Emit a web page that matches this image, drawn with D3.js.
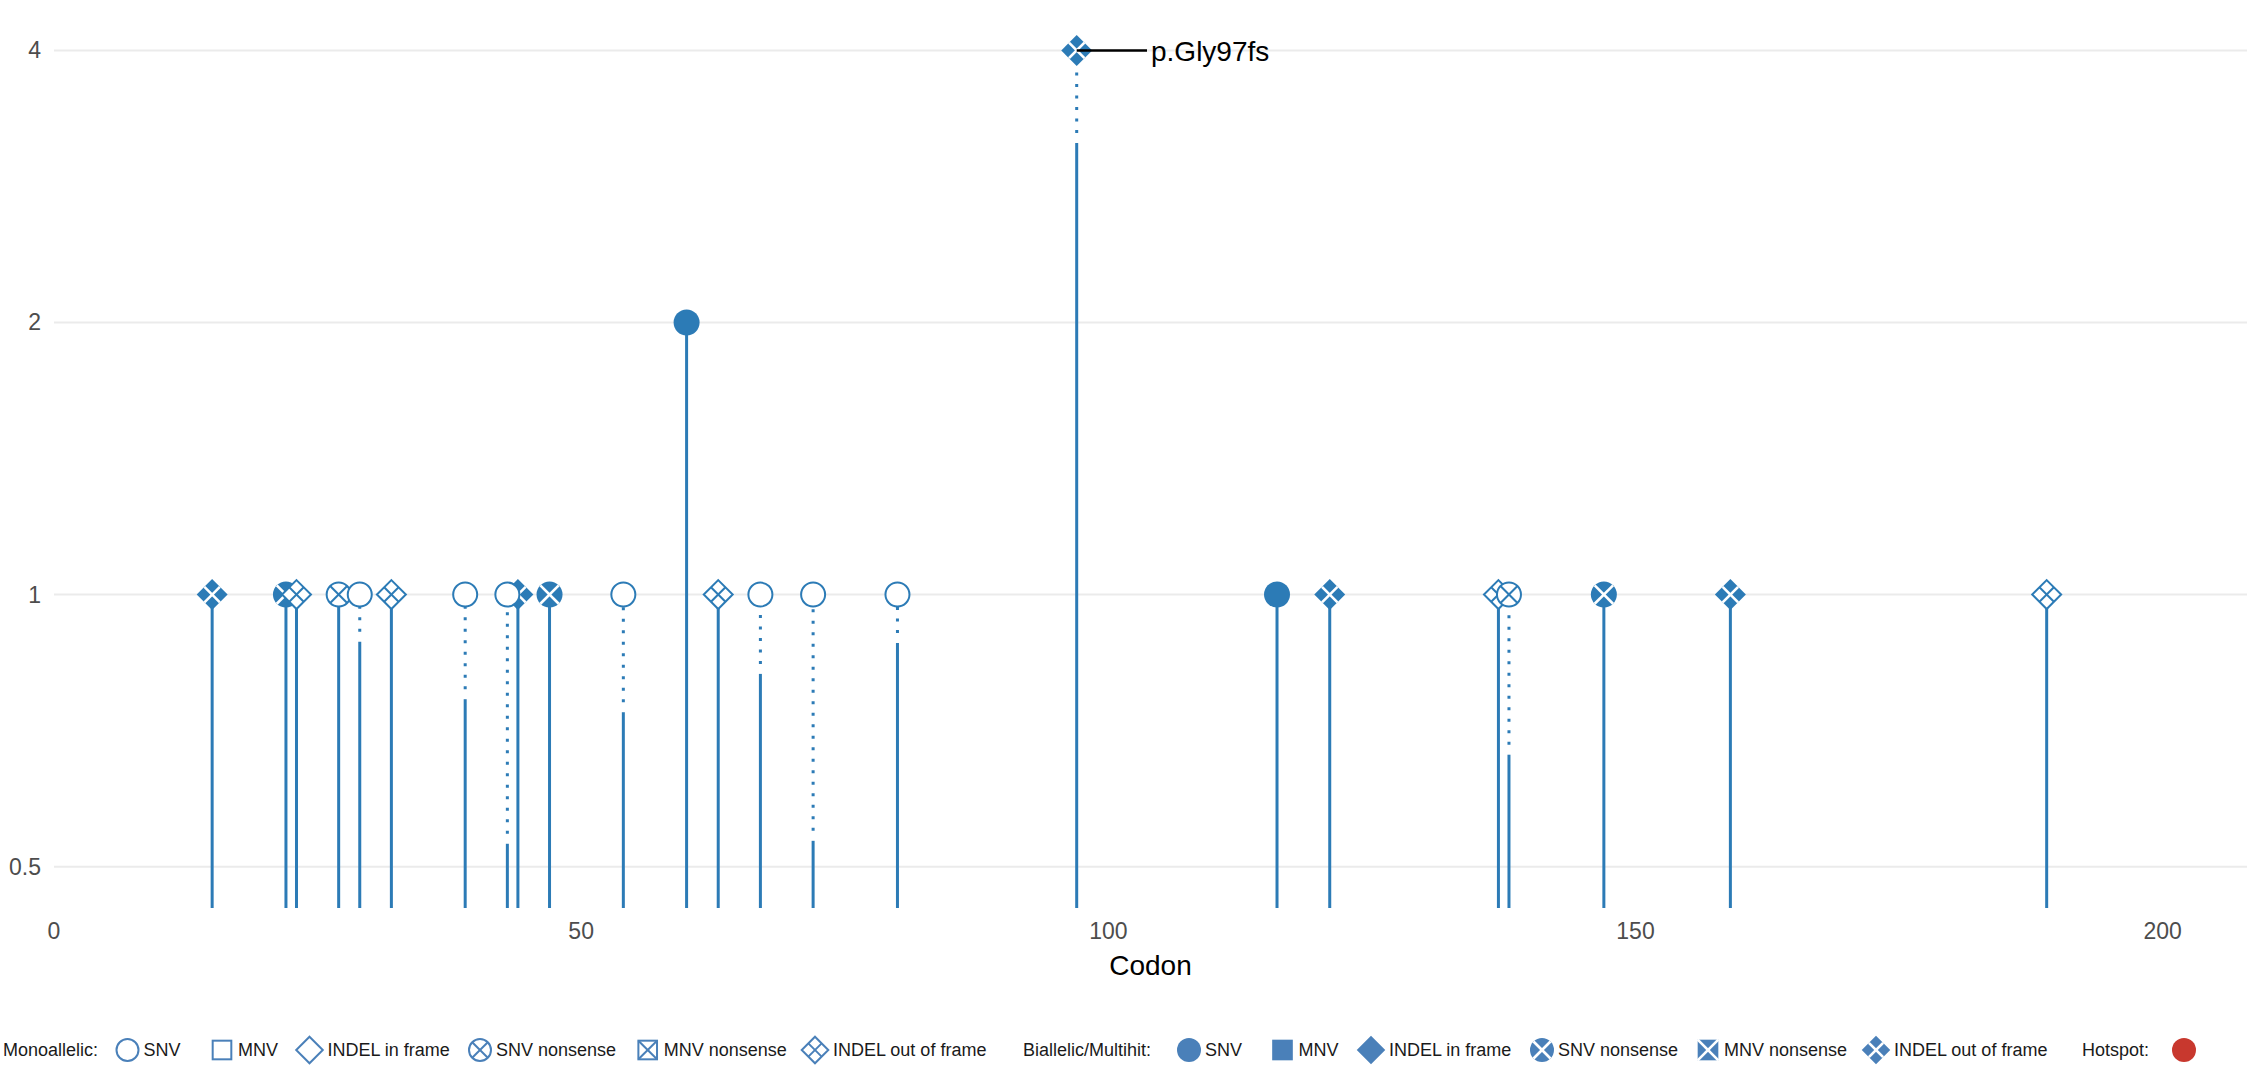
<!DOCTYPE html>
<html>
<head>
<meta charset="utf-8">
<script src="https://cdn.jsdelivr.net/npm/d3@7"></script>
<style>
  html, body { margin: 0; padding: 0; background: #fff; }
  svg { display: block; font-family: "Liberation Sans", Arial, Helvetica, sans-serif; }
</style>
</head>
<body>
<svg id="chart" width="2247" height="1072"></svg>
<script>
// ---------------- data ----------------
const codons   = [15, 22, 23, 27, 29, 32, 39, 43, 44, 47, 54, 60, 63, 67, 72, 80, 97, 116, 121, 137, 138, 147, 159, 189];
const counts   = [1, 1, 1, 1, 1, 1, 1, 1, 1, 1, 1, 2, 1, 1, 1, 1, 4, 1, 1, 1, 1, 1, 1, 1];
// value up to which the stem is solid (above it the stem is dotted)
const solidTo  = [1, 1, 1, 1, 0.887, 1, 0.766, 0.530, 1, 1, 0.741, 2, 1, 0.817, 0.534, 0.884, 3.16, 1, 1, 1, 0.665, 1, 1, 1];
const mutTypes = ["INDEL out of frame", "SNV nonsense", "INDEL out of frame", "SNV nonsense", "SNV", "INDEL out of frame",
                  "SNV", "SNV", "INDEL out of frame", "SNV nonsense", "SNV", "SNV", "INDEL out of frame", "SNV", "SNV", "SNV",
                  "INDEL out of frame", "SNV", "INDEL out of frame", "INDEL out of frame", "SNV nonsense", "SNV nonsense",
                  "INDEL out of frame", "INDEL out of frame"];
const biallelic = [true, true, false, false, false, false, false, false, true, true, false, true, false, false, false, false,
                   true, true, true, false, false, true, true, false];
const labelCodons = [97];
const labelTexts  = ["p.Gly97fs"];

const xTicks = [0, 50, 100, 150, 200];
const yTicks = [0.5, 1, 2, 4];
const yTickLabels = ["0.5", "1", "2", "4"];
const xTitle = "Codon";

const legendTypes = ["SNV", "MNV", "INDEL in frame", "SNV nonsense", "MNV nonsense", "INDEL out of frame"];
const legendGroupTitles = ["Monoallelic:", "Biallelic/Multihit:", "Hotspot:"];

// ---------------- layout ----------------
const W = 2247, H = 1072;
const COL = "#2c7bb6";
const LEG_COL = "#4a80b9";
const svg = d3.select("#chart");

const x = d3.scaleLinear().domain([0, 208]).range([54, 2247]);
const y = d3.scaleLog().base(2).domain([0.45, 4.4]).range([908, 13]);

// gridlines
svg.append("g").selectAll("line").data(yTicks).join("line")
  .attr("x1", 54).attr("x2", W)
  .attr("y1", d => y(d)).attr("y2", d => y(d))
  .attr("stroke", "#ebebeb").attr("stroke-width", 2);

// y axis labels
svg.append("g").selectAll("text").data(yTicks).join("text")
  .attr("x", 41).attr("y", d => y(d))
  .attr("text-anchor", "end").attr("dominant-baseline", "central")
  .attr("font-size", 23).attr("fill", "#4d4d4d")
  .text((d, i) => yTickLabels[i]);

// x axis labels
svg.append("g").selectAll("text").data(xTicks).join("text")
  .attr("x", d => x(d)).attr("y", 931)
  .attr("text-anchor", "middle").attr("dominant-baseline", "central")
  .attr("font-size", 23).attr("fill", "#4d4d4d")
  .text(d => d);

svg.append("text").attr("x", (54 + W) / 2).attr("y", 975)
  .attr("text-anchor", "middle").attr("font-size", 28).attr("fill", "#000")
  .text(xTitle);

// ---------------- marker helper ----------------
function drawSymbol(g, type, filled, R, col, sw) {
  const isCircle = type.startsWith("SNV");
  const isSquare = type.startsWith("MNV");
  const cross = type.includes("nonsense") || type === "INDEL out of frame";
  const inset = filled ? 0 : sw / 2;
  const fill = filled ? col : "#fff";
  const stroke = filled ? "none" : col;
  let lines = [];
  if (isCircle) {
    const r = R - inset;
    g.append("circle").attr("r", r).attr("fill", fill).attr("stroke", stroke).attr("stroke-width", sw);
    const k = r * Math.SQRT1_2;
    lines = [[-k, -k, k, k], [-k, k, k, -k]];
  } else if (isSquare) {
    const h = R * 0.86 - inset;
    g.append("rect").attr("x", -h).attr("y", -h).attr("width", 2 * h).attr("height", 2 * h)
      .attr("fill", fill).attr("stroke", stroke).attr("stroke-width", sw);
    lines = [[-h, -h, h, h], [-h, h, h, -h]];
  } else {
    const D = R * 1.19 - inset;
    g.append("path").attr("d", `M0,${-D}L${D},0L0,${D}L${-D},0Z`)
      .attr("fill", fill).attr("stroke", stroke).attr("stroke-width", sw);
    const m = D / 2;
    lines = [[m, -m, -m, m], [-m, -m, m, m]];
  }
  if (cross) {
    g.selectAll("line.cr").data(lines).join("line").attr("class", "cr")
      .attr("x1", d => d[0]).attr("y1", d => d[1]).attr("x2", d => d[2]).attr("y2", d => d[3])
      .attr("stroke", filled ? "#fff" : col).attr("stroke-width", filled ? 2.6 : sw);
  }
}

// ---------------- stems ----------------
const data = codons.map((c, i) => ({
  codon: c, count: counts[i], solid: solidTo[i], type: mutTypes[i], bi: biallelic[i]
}));

const stems = svg.append("g");
stems.selectAll("line.solid").data(data).join("line").attr("class", "solid")
  .attr("x1", d => x(d.codon)).attr("x2", d => x(d.codon))
  .attr("y1", y(0.45)).attr("y2", d => y(d.solid))
  .attr("stroke", COL).attr("stroke-width", 3);
stems.selectAll("line.dot").data(data.filter(d => d.solid < d.count)).join("line").attr("class", "dot")
  .attr("x1", d => x(d.codon)).attr("x2", d => x(d.codon))
  .attr("y1", d => y(d.solid) - 10).attr("y2", d => y(d.count))
  .attr("stroke", COL).attr("stroke-width", 3).attr("stroke-dasharray", "3,8.5");

// ---------------- markers (biallelic first, monoallelic on top) ----------------
const ordered = data.filter(d => d.bi).concat(data.filter(d => !d.bi));
const mk = svg.append("g");
ordered.forEach(d => {
  const g = mk.append("g").attr("transform", `translate(${x(d.codon)},${y(d.count)})`);
  drawSymbol(g, d.type, d.bi, 13, COL, 2);
});

// ---------------- labels ----------------
labelCodons.forEach((c, i) => {
  const d = data.find(e => e.codon === c);
  const yy = y(d.count);
  svg.append("line").attr("x1", x(c)).attr("x2", 1147).attr("y1", yy).attr("y2", yy)
    .attr("stroke", "#000").attr("stroke-width", 2.5);
  svg.append("text").attr("x", 1151).attr("y", yy + 11)
    .attr("font-size", 28).attr("fill", "#000").text(labelTexts[i]);
});

// ---------------- legend ----------------
const LY = 1050;
const monoX = [127.5, 222, 309.5, 480, 647.7, 815];
const biX   = [1189, 1282.5, 1371, 1542, 1708, 1876];
const titleX = [3, 1023, 2082];
const leg = svg.append("g");
legendGroupTitles.forEach((t, i) => {
  leg.append("text").attr("x", titleX[i]).attr("y", LY).attr("dominant-baseline", "central")
    .attr("font-size", 18).attr("fill", "#1a1a1a").text(t);
});
legendTypes.forEach((t, i) => {
  [[monoX[i], false], [biX[i], true]].forEach(([lx, filled]) => {
    const g = leg.append("g").attr("transform", `translate(${lx},${LY})`);
    drawSymbol(g, t, filled, 12, LEG_COL, 2);
    leg.append("text").attr("x", lx + (t.startsWith("INDEL") ? 18 : 16)).attr("y", LY)
      .attr("dominant-baseline", "central").attr("font-size", 18).attr("fill", "#1a1a1a").text(t);
  });
});
leg.append("circle").attr("cx", 2184).attr("cy", LY).attr("r", 12).attr("fill", "#c8382e");
</script>
</body>
</html>
